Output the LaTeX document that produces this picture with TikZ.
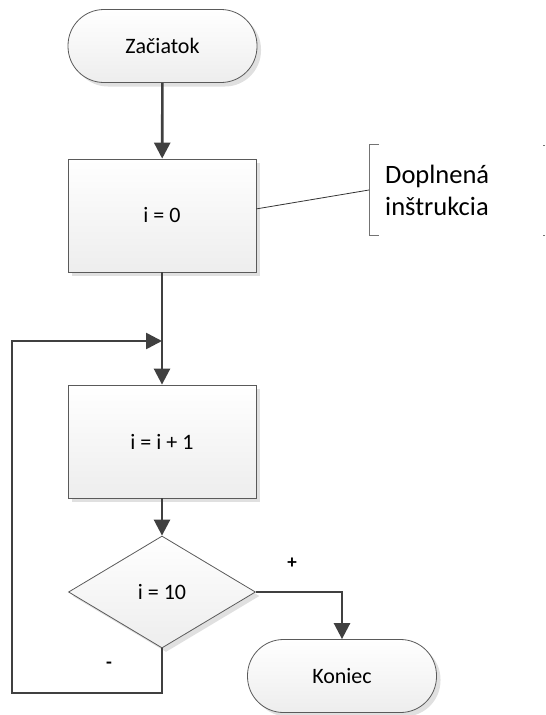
\documentclass[tikz,border=0pt]{standalone}
\usepackage{fontspec}
\setmainfont{Carlito}
\usetikzlibrary{shapes.geometric,arrows.meta,shadows,calc}

\definecolor{edge}{HTML}{404040}
\definecolor{outline}{HTML}{5A5A5A}
\definecolor{shade}{HTML}{E0E0E0}

\tikzset{
  shape base/.style={draw=outline, line width=0.8pt, top color=white, bottom color=black!7,
    drop shadow={shadow xshift=4pt, shadow yshift=-4pt, fill=shade, opacity=1},
    font=\fontsize{22}{26}\selectfont, inner sep=0pt},
  terminal/.style={shape base, rectangle, rounded corners=36pt, minimum width=189pt, minimum height=73pt},
  procbox/.style={shape base, rectangle, minimum width=188pt, minimum height=113pt},
  decision/.style={shape base, diamond, minimum width=187pt, minimum height=112pt},
  flow/.style={draw=edge, line width=2.6pt, -{Triangle[length=16pt,width=16pt]}},
  branch/.style={font=\fontsize{19}{21}\selectfont\bfseries},
  note/.style={font=\fontsize{26.5}{32}\selectfont, align=left, inner xsep=16pt, inner ysep=0pt,
    minimum height=90pt, anchor=west},
  bracket/.style={draw=black!55, line width=0.9pt}
}

\begin{document}
\begin{tikzpicture}[x=1pt, y=-1pt]
  \useasboundingbox (0,0) rectangle (546,715);

  % flowchart blocks
  \node[terminal] (start) at (162.5,46) {Začiatok};
  \node[procbox] (init) at (162,215.5) {i = 0};
  \node[procbox] (inc) at (162,441.5) {i = i + 1};
  \node[decision] (test) at (162,592) {i = 10};
  \node[terminal] (stop) at (342,676) {Koniec};

  % annotation attached to the initialisation step
  \node[note] (remark) at (369,190) {Doplnená\\inštrukcia};
  \draw[bracket] ($(remark.north west)+(10,0)$) -- (remark.north west)
                 -- (remark.south west) -- ($(remark.south west)+(10,0)$);
  \draw[bracket, line width=0.6pt] ($(remark.north west)+(174,0)$) -- ++(2,0);
  \draw[bracket, line width=0.6pt] ($(remark.south west)+(174,0)$) -- ++(2,0);
  \draw[black!80, line width=0.8pt] (init.4) -- (remark.west);

  % loop junction and corner points
  \coordinate (join) at (162,341);
  \coordinate (corner) at (12,693);

  % connectors
  \draw[flow] (start) -- (init);
  \draw[flow] (init) -- (inc);
  \draw[flow] (inc) -- (test);
  \draw[flow] (test.east) -| (stop.north);
  \draw[flow] (test.south) |- (corner) |- (join);

  % branch labels
  \node[branch] (yes) at (292,563) {+};
  \node[branch] (no) at (109,665) {-};
\end{tikzpicture}
\end{document}
